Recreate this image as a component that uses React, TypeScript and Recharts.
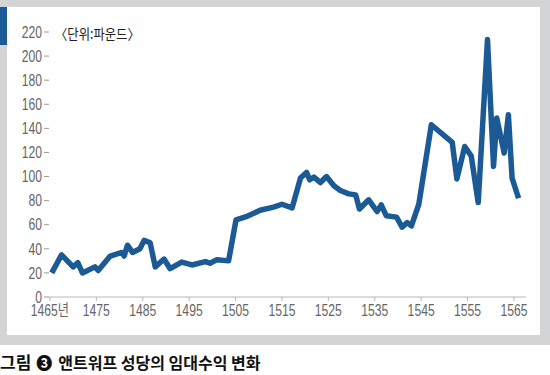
import React from 'react';
import { LineChart, Line, XAxis, YAxis } from 'recharts';

// rental income of Antwerp cathedral, pounds
const years = [
  1465.4, 1467.5, 1470, 1471, 1472, 1474.7, 1475.4, 1478, 1480.5, 1481, 1481.7, 1482.8,
  1484.4, 1485.3, 1486.6, 1487.7, 1489.6, 1490.9, 1493.4, 1495.6, 1498.5, 1499.5, 1501,
  1503.5, 1505.1, 1507.5, 1510.3, 1513.2, 1515, 1517.2, 1519, 1520.3, 1521, 1521.9,
  1523.3, 1524.6, 1526.2, 1527.6, 1529.4, 1530.9, 1531.7, 1533.7, 1535.5, 1536.4,
  1537.5, 1539.7, 1540.9, 1542, 1542.9, 1544.5, 1547.2, 1551.7, 1552.7, 1554.4, 1555.8,
  1557.3, 1559.3, 1560.6, 1561.3, 1562.9, 1563.8, 1564.6, 1566,
];
const income = [
  20, 35, 25, 28.5, 20, 25, 22, 34, 37, 34, 43, 37,
  40, 47, 45, 25, 31.5, 23.5, 29, 26.6, 29.4, 28, 31,
  30, 64, 67, 72, 74.6, 77, 74, 98.7, 103.4, 97.3, 99.5,
  95, 100, 92.3, 88.4, 85.6, 84.8, 73, 80.7, 71, 76.5,
  67.4, 66.3, 58, 61.8, 59, 77, 143, 128.3, 98, 125, 117,
  78.4, 213.7, 108.4, 148.6, 119.5, 151.3, 98.7, 82,
];
const yearTicks = [1465, 1475, 1485, 1495, 1505, 1515, 1525, 1535, 1545, 1555, 1565];
const valueTicks = [0, 20, 40, 60, 80, 100, 120, 140, 160, 180, 200, 220];

const data = years.map((year, i) => ({ year, value: income[i] }));

const tickFont = 'Liberation Sans, Arial, "Noto Sans CJK KR", sans-serif';

const YTick = ({ x, y, payload }: any) => (
  <g transform={`translate(${x},${y})`}>
    <text transform="scale(0.76,1)" textAnchor="end" dy="0.355em" fontSize={16} fill="#666" fontFamily={tickFont}>
      {payload.value}
    </text>
  </g>
);

const XTick = ({ x, y, payload }: any) => (
  <g transform={`translate(${x},${y})`}>
    <text transform="scale(0.76,1)" textAnchor="middle" dy="0.71em" fontSize={16} fill="#666" fontFamily={tickFont}>
      {payload.value === 1465 ? '1465년' : payload.value}
    </text>
  </g>
);

export default function App() {
  return (
    <div style={{ position: 'absolute', left: 0, top: 0, width: 550, height: 375, background: '#fff', overflow: 'hidden' }}>
      <div style={{ position: 'absolute', left: 0, top: 0, width: 550, height: 345, background: '#d3d4d6' }} />
      <div style={{ position: 'absolute', left: 7, top: 7, width: 533, height: 328, background: '#fff' }} />
      <div style={{ position: 'absolute', left: 0, top: 7, width: 7, height: 38, background: '#1b5a94' }} />
      <div style={{ position: 'absolute', left: 0, top: 0 }}>
        <LineChart width={550} height={340} data={data} margin={{ top: 32, right: 24, left: 0, bottom: 0 }}>
          <XAxis
            dataKey="year"
            type="number"
            domain={[1464.8, 1567.6]}
            ticks={yearTicks}
            height={43}
            tick={<XTick />}
            tickSize={4}
            tickMargin={4}
            stroke="#b8b8b8"
            allowDataOverflow
          />
          <YAxis
            domain={[0, 220]}
            ticks={valueTicks}
            width={49}
            axisLine={false}
            tick={<YTick />}
            tickSize={5}
            tickMargin={2}
            tickLine={{ stroke: '#999' }}
          />
          <Line
            type="linear"
            dataKey="value"
            stroke="#1b5a94"
            strokeWidth={5.5}
            strokeLinejoin="round"
            dot={false}
            isAnimationActive={false}
          />
        </LineChart>
      </div>
      <div
        style={{
          position: 'absolute', left: 55, top: 23, fontSize: 14, color: '#222', whiteSpace: 'nowrap',
          fontFamily: '"Noto Sans CJK KR", sans-serif', transform: 'scaleX(0.88)', transformOrigin: 'left center', lineHeight: '20px',
        }}
      >
        〈단위:파운드〉
      </div>
      <div
        style={{
          position: 'absolute', left: 0, top: 352, fontSize: 16, fontWeight: 'bold', color: '#111', whiteSpace: 'nowrap',
          fontFamily: '"Noto Sans CJK KR", sans-serif', lineHeight: '20px',
        }}
      >
        <span style={{ fontSize: 17 }}>그림</span>
        <span style={{ marginLeft: 5, marginRight: 6 }}>❸</span>
        앤트워프 성당의 임대수익 변화
      </div>
    </div>
  );
}
